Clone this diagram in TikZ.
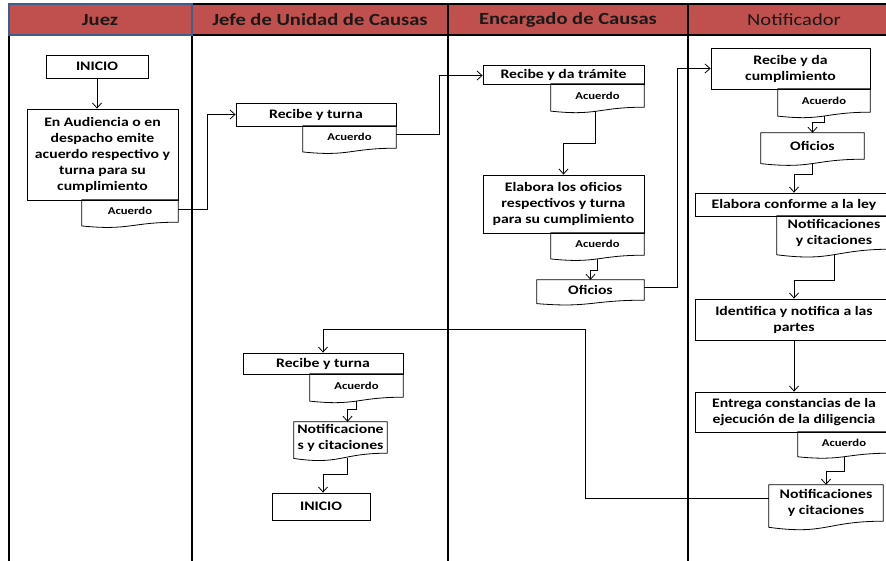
\documentclass[tikz,border=0pt]{standalone}
\usepackage{fontspec}
\setmainfont{Carlito}[FakeStretch=1.21]
\usetikzlibrary{arrows.meta,calc}
\definecolor{hdr}{HTML}{C0504D}
\definecolor{jblue}{HTML}{3D5F8F}
\tikzset{
  box/.style={draw, line width=0.8pt, inner sep=1pt, align=center, font=\fontsize{13}{16}\selectfont\bfseries},
  doc/.style={inner sep=1pt, align=center, font=\fontsize{13}{16}\selectfont\bfseries,
    append after command={\pgfextra{
      \draw[line width=0.8pt] (\tikzlastnode.north west) -- (\tikzlastnode.north east) -- (\tikzlastnode.south east)
        .. controls (\tikzlastnode.south) and ($(\tikzlastnode.north)!1.384!(\tikzlastnode.south)$)
        .. ($(\tikzlastnode.north west)!1.1675!(\tikzlastnode.south west)$) -- cycle;
      \coordinate (\tikzlastnode-b) at ($(\tikzlastnode.north)!1.165!(\tikzlastnode.south)$);
    }}},
  small/.style={font=\fontsize{10.5}{12}\selectfont\bfseries},
  arr/.style={line width=0.8pt, -{Straight Barb[length=5pt,width=9pt]}},
  conn/.style={line width=0.8pt},
  lane/.style={line width=1.7pt},
  hdrtext/.style={font=\fontsize{17}{20}\selectfont\bfseries, text=black!90}
}
\begin{document}
\begin{tikzpicture}[x=1pt,y=-1pt]
\useasboundingbox (0,0) rectangle (886,561);
% header
\fill[hdr] (9,4) rectangle (893,35);
\draw[line width=1.2pt] (9,4) -- (893,4);
\draw[line width=1.5pt] (9,35) -- (893,35);
\draw[lane] (9,4) -- (9,561);
\draw[lane] (192,4) -- (192,561);
\draw[lane] (448,4) -- (448,561);
\draw[lane] (688,4) -- (688,561);
\draw[jblue, line width=1.6pt] (9,4) rectangle (192,35);
\node[hdrtext] (hjuez) at (100,20) {Juez};
\node[hdrtext] (hjefe) at (320,20) {Jefe de Unidad de Causas};
\node[hdrtext] (henc) at (568,20) {Encargado de Causas};
\node[hdrtext, font=\fontsize{17}{20}\selectfont] (hnot) at (794,20) {Notificador};

% Juez
\node[box, minimum width=102, minimum height=23] (jini) at (97,66.5) {INICIO};
\node[box, minimum width=151, minimum height=91] (jemite) at (102.5,154.5) {En Audiencia o en\\despacho emite\\acuerdo respectivo y\\turna para su\\cumplimiento};
\node[doc, small, minimum width=96, minimum height=22] (jacu) at (130,211) {Acuerdo};

% Jefe (top)
\node[box, minimum width=160, minimum height=23] (frec) at (316,114.5) {Recibe y turna};
\node[doc, small, minimum width=93, minimum height=22] (facu) at (349.5,137) {Acuerdo};

% Encargado
\node[box, minimum width=161, minimum height=19] (erec) at (563.5,74.5) {Recibe y da trámite};
\node[doc, small, minimum width=93, minimum height=23] (eacu) at (597.5,95.5) {Acuerdo};
\node[box, minimum width=161, minimum height=58] (eelab) at (563.5,204) {Elabora los oficios\\respectivos y turna\\para su cumplimiento};
\node[doc, small, minimum width=93, minimum height=22] (eacub) at (597.5,244) {Acuerdo};
\node[doc, minimum width=107, minimum height=20] (eofi) at (590.5,290) {Oficios};

% Notificador
\node[box, minimum width=159, minimum height=41] (nrec) at (790.5,68.5) {Recibe y da\\cumplimiento};
\node[doc, small, minimum width=92, minimum height=23] (nacu) at (824,100.5) {Acuerdo};
\node[doc, minimum width=103, minimum height=26] (nofi) at (812.5,146) {Oficios};
\node[box, minimum width=198, minimum height=23] (nelab) at (794,204.5) {Elabora conforme a la ley};
\node[doc, minimum width=114, minimum height=33] (nnot) at (834,232.5) {Notificaciones\\y citaciones};
\node[box, minimum width=198, minimum height=41] (nide) at (794,319.5) {Identifica y notifica a las\\partes};
\node[box, minimum width=198, minimum height=40] (nent) at (794,412) {Entrega constancias de la\\ejecución de la diligencia};
\node[doc, small, minimum width=92, minimum height=21] (nacub) at (844,442.5) {Acuerdo};
\node[doc, minimum width=114, minimum height=36] (nnotb) at (826,503) {Notificaciones\\y citaciones};

% Jefe (bottom)
\node[box, minimum width=160, minimum height=21] (frecb) at (323,363.5) {Recibe y turna};
\node[doc, small, minimum width=93, minimum height=23] (facub) at (356.5,385.5) {Acuerdo};
\node[doc, minimum width=93, minimum height=31] (fnot) at (340.5,437.5) {Notificacione\\s y citaciones};
\node[box, minimum width=98, minimum height=27] (fini) at (321,506.5) {INICIO};

% connectors
\draw[arr] (jini.south) -- (jini.south |- jemite.north);
\draw[arr] ([yshift=2]jacu.east) -- ++(29,0) |- (frec.west);
\draw[arr] ([yshift=3]facu.east) -- ++(43,0) |- ([yshift=-1]erec.west);
\draw[arr] ([xshift=-2]eacu-b) |- ($(eelab.north)+(0,-31)$) -- (eelab.north);
\draw[arr] (eacub-b) |- ($(eofi.north)+(0,-9)$) -- (eofi.north);
\draw[arr] ([yshift=3]eofi.east) -- ++(33,0) |- (nrec.west);
\draw[arr] (nacu-b) |- ($(nofi.north)+(0,-10)$) -- (nofi.north);
\draw[arr] (nofi-b) |- ($(nelab.north)+(0,-18)$) -- (nelab.north);
\draw[arr] (nnot-b) |- ($(nide.north)+(0,-18)$) -- (nide.north);
\draw[arr] (nide.south) -- (nent.north);
\draw[arr] (nacub-b) |- ($(nnotb.north)+(0,-13)$) -- (nnotb.north);
\draw[arr] ([yshift=5]nnotb.west) -- ++(-183,0) |- ($(frecb.north)+(0,-23)$) -- (frecb.north);
\draw[arr] (facub-b) |- ($(fnot.north)+(7,-12)$) -- ($(fnot.north)+(7,0)$);
\draw[arr] ($(fnot-b)+(7,0)$) |- ($(fini.north)+(2,-18)$) -- ($(fini.north)+(2,0)$);
\end{tikzpicture}
\end{document}
